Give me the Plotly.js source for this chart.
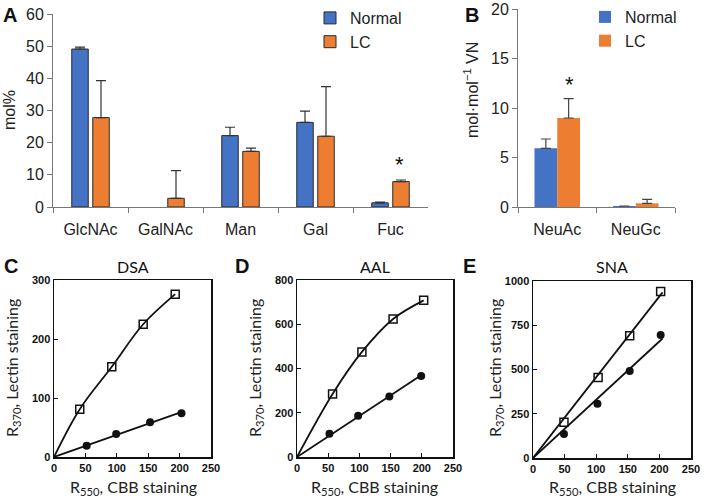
<!DOCTYPE html>
<html><head><meta charset="utf-8">
<script src="https://cdn.plot.ly/plotly-3.0.1.min.js"></script>
<style>html,body{margin:0;padding:0;background:#fff}#chart{width:709px;height:500px}</style>
</head><body><div id="chart"></div><script>
// ---- Panel A: monosaccharide composition (mol%)
const catsA = ['GlcNAc', 'GalNAc', 'Man', 'Gal', 'Fuc'];
const normalA = [49.1, null, 22.2, 26.3, 1.3];
const normalAErr = [0.6, 0, 2.6, 3.5, 0.2];
const lcA = [27.8, 2.7, 17.3, 22.0, 7.9];
const lcAErr = [11.5, 8.6, 1.0, 15.4, 0.5];
// ---- Panel B: sialic acids (mol·mol-1 VN)
const catsB = ['NeuAc', 'NeuGc'];
const normalB = [5.93, 0.1];
const normalBErr = [0.94, 0];
const lcB = [8.99, 0.37];
const lcBErr = [1.95, 0.4];
// ---- Panels C-E: lectin vs CBB staining
const dsaSqX = [41, 92, 142, 193];
const dsaSqY = [81, 153, 225, 276];
const dsaCiX = [52, 99, 153, 203];
const dsaCiY = [19, 39, 59, 74];
const aalSqX = [57, 104, 154, 203];
const aalSqY = [285, 475, 624, 708];
const aalCiX = [52, 98, 148, 199];
const aalCiY = [105, 187, 273, 366];
const snaSqX = [49, 103, 153, 202];
const snaSqY = [202, 455, 691, 941];
const snaCiX = [49, 102, 153, 202];
const snaCiY = [136, 307, 492, 695];

const W = 709, H = 500;
const px = v => v / W, py = v => 1 - v / H;
const blue = '#4472c4', orange = '#ed7d31';
const fontA = 'Liberation Sans, Arial, sans-serif';
const fontC = 'Lato, Open Sans, sans-serif';

function through0Fit(xs, ys) {
  let sxy = 0, sxx = 0;
  xs.forEach((x, i) => { sxy += x * ys[i]; sxx += x * x; });
  const k = sxy / sxx, xm = Math.max(...xs) + 3;
  return { x: [0, xm], y: [0, k * xm] };
}
function sq(xs, ys, xa, ya) {
  return { type: 'scatter', mode: 'markers', x: xs, y: ys, xaxis: xa, yaxis: ya, showlegend: false,
    marker: { symbol: 'square-open', size: 8, color: '#111', line: { width: 1.5, color: '#111' } } };
}
function ci(xs, ys, xa, ya) {
  return { type: 'scatter', mode: 'markers', x: xs, y: ys, xaxis: xa, yaxis: ya, showlegend: false,
    marker: { symbol: 'circle', size: 8, color: '#111' } };
}
function curve(xs, ys, xa, ya) {
  return { type: 'scatter', mode: 'lines', x: [0].concat(xs), y: [0].concat(ys), xaxis: xa, yaxis: ya,
    showlegend: false, line: { shape: 'spline', smoothing: 1, color: '#111', width: 1.8 } };
}
function fitLine(xs, ys, xa, ya) {
  const f = through0Fit(xs, ys);
  return { type: 'scatter', mode: 'lines', x: f.x, y: f.y, xaxis: xa, yaxis: ya,
    showlegend: false, line: { color: '#111', width: 1.8 } };
}
function errUp(arr, color, w) {
  return { type: 'data', array: arr, arrayminus: arr.map(() => 0), symmetric: false,
    color: color, thickness: 1.2, width: w, visible: true };
}

const traces = [
  { type: 'bar', name: 'Normal', x: catsA, y: normalA, xaxis: 'x', yaxis: 'y', legend: 'legend',
    offset: -0.25, width: 0.22, marker: { color: blue, line: { color: '#2b2b2b', width: 1 } },
    error_y: errUp(normalAErr, '#333', 5) },
  { type: 'bar', name: 'LC', x: catsA, y: lcA, xaxis: 'x', yaxis: 'y', legend: 'legend',
    offset: 0.03, width: 0.22, marker: { color: orange, line: { color: '#2b2b2b', width: 1 } },
    error_y: errUp(lcAErr, '#333', 5) },
  { type: 'bar', name: 'Normal', x: catsB, y: normalB, xaxis: 'x2', yaxis: 'y2', legend: 'legend2',
    offset: -0.29, width: 0.29, marker: { color: blue, line: { width: 0 } },
    error_y: errUp(normalBErr, '#444', 5) },
  { type: 'bar', name: 'LC', x: catsB, y: lcB, xaxis: 'x2', yaxis: 'y2', legend: 'legend2',
    offset: 0, width: 0.29, marker: { color: orange, line: { width: 0 } },
    error_y: errUp(lcBErr, '#444', 5) },
  curve(dsaSqX, dsaSqY, 'x3', 'y3'), fitLine(dsaCiX, dsaCiY, 'x3', 'y3'),
  sq(dsaSqX, dsaSqY, 'x3', 'y3'), ci(dsaCiX, dsaCiY, 'x3', 'y3'),
  curve(aalSqX, aalSqY, 'x4', 'y4'), fitLine(aalCiX, aalCiY, 'x4', 'y4'),
  sq(aalSqX, aalSqY, 'x4', 'y4'), ci(aalCiX, aalCiY, 'x4', 'y4'),
  fitLine(snaSqX, snaSqY, 'x5', 'y5'), fitLine(snaCiX, snaCiY, 'x5', 'y5'),
  sq(snaSqX, snaSqY, 'x5', 'y5'), ci(snaCiX, snaCiY, 'x5', 'y5')
];

const topTick = { family: fontA, size: 16, color: '#222' };
function catAxis(d, n) {
  return { domain: d, type: 'category', range: [-0.5, n - 0.5], showline: true, linecolor: '#777', linewidth: 1,
    ticks: 'outside', tickson: 'boundaries', ticklen: 5, tickcolor: '#777', tickfont: topTick,
    ticklabelstandoff: 8, showgrid: false, zeroline: false, fixedrange: true };
}
function valAxis(d, r, dt, anchor) {
  return { domain: d, range: r, dtick: dt, anchor: anchor, showline: true, linecolor: '#777', linewidth: 1,
    ticks: 'outside', ticklen: 5, tickcolor: '#777', tickfont: topTick, showgrid: false, zeroline: false };
}
const lowTick = { family: fontA, size: 11, color: '#111', weight: 'bold' };
function boxX(d, anchor) {
  return { domain: d, anchor: anchor, range: [0, 250], dtick: 50, showline: true, mirror: true,
    linecolor: '#111', linewidth: 1.5, ticks: 'inside', ticklen: 4, tickcolor: '#111', tickfont: lowTick,
    showgrid: false, zeroline: false };
}
function boxY(d, r, dt, anchor) {
  return { domain: d, anchor: anchor, range: r, dtick: dt, showline: true, mirror: true,
    linecolor: '#111', linewidth: 1.5, ticks: 'inside', ticklen: 4, tickcolor: '#111', tickfont: lowTick,
    showgrid: false, zeroline: false };
}

const ann = [];
function txt(t, x, y, size, opts) {
  ann.push(Object.assign({ text: t, x: px(x), y: py(y), xref: 'paper', yref: 'paper', showarrow: false,
    xanchor: 'center', yanchor: 'middle', font: { family: fontA, size: size, color: '#111' } }, opts || {}));
}
txt('<b>A</b>', 10, 15, 20);
txt('<b>B</b>', 472, 15, 20);
txt('<b>C</b>', 11, 266, 20);
txt('<b>D</b>', 242, 266, 20);
txt('<b>E</b>', 469, 266, 20);
txt('mol%', 10, 110, 16, { textangle: -90, font: { family: fontA, size: 16, color: '#222' } });
txt('mol·mol<sup>−1</sup> VN', 471, 90, 16, { textangle: -90, font: { family: fontA, size: 16, color: '#222' } });
txt('DSA', 133, 266, 16, { font: { family: fontC, size: 16, color: '#111' } });
txt('AAL', 375, 266, 16, { font: { family: fontC, size: 16, color: '#111' } });
txt('SNA', 612, 266, 16, { font: { family: fontC, size: 16, color: '#111' } });
[12, 255, 495].forEach(cx => {
  txt('R<sub>370</sub>, Lectin staining', cx, 368, 16, { textangle: -90, font: { family: fontC, size: 16, color: '#222' } });
});
[133, 375, 612].forEach(cx => {
  txt('R<sub>550</sub>, CBB staining', cx, 487, 16, { font: { family: fontC, size: 16, color: '#222' } });
});
// significance asterisks, positioned in data coordinates
ann.push({ text: '*', x: 'Fuc', y: 13.3, xref: 'x', yref: 'y', xshift: 9, showarrow: false,
  font: { family: fontA, size: 22, color: '#111' } });
ann.push({ text: '*', x: 'NeuAc', y: 12.4, xref: 'x2', yref: 'y2', xshift: 12, showarrow: false,
  font: { family: fontA, size: 22, color: '#111' } });

const layout = {
  width: W, height: H, margin: { l: 0, r: 0, t: 0, b: 0 }, paper_bgcolor: '#fff', plot_bgcolor: '#fff',
  barmode: 'group', showlegend: true,
  xaxis: catAxis([px(53), px(428)], 5), yaxis: valAxis([py(207), py(14)], [0, 60], 10, 'x'),
  xaxis2: Object.assign(catAxis([px(518), px(675)], 2), { anchor: 'y2' }),
  yaxis2: valAxis([py(207), py(9)], [0, 20], 5, 'x2'),
  xaxis3: boxX([px(54), px(211)], 'y3'), yaxis3: boxY([py(457), py(280)], [0, 300], 100, 'x3'),
  xaxis4: boxX([px(297), px(453)], 'y4'), yaxis4: boxY([py(457), py(280)], [0, 800], 200, 'x4'),
  xaxis5: boxX([px(533), px(691)], 'y5'), yaxis5: boxY([py(458), py(281)], [0, 1000], 250, 'x5'),
  legend: { x: px(310), y: py(1), xanchor: 'left', yanchor: 'top', bgcolor: 'rgba(0,0,0,0)',
    font: { family: fontA, size: 16, color: '#222' }, itemwidth: 30, tracegroupgap: 0 },
  legend2: { x: px(585), y: 1, xanchor: 'left', yanchor: 'top', bgcolor: 'rgba(0,0,0,0)',
    font: { family: fontA, size: 16, color: '#222' }, itemwidth: 30, tracegroupgap: 0 },
  annotations: ann
};
layout.xaxis.anchor = 'y';
Plotly.newPlot('chart', traces, layout, { staticPlot: true });
</script></body></html>
